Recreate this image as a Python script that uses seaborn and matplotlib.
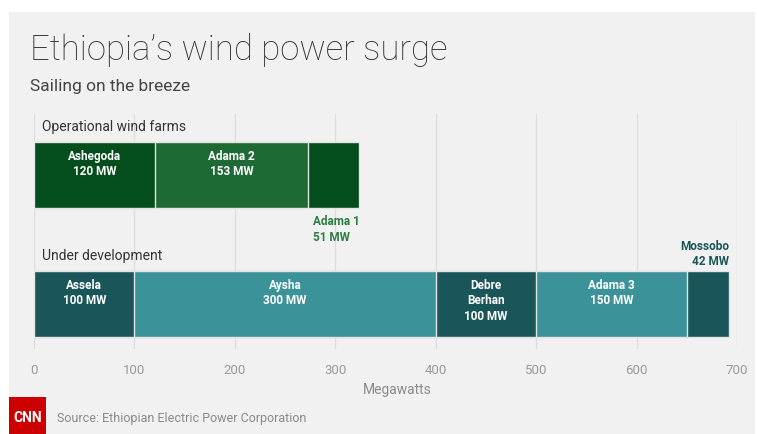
import matplotlib
matplotlib.use("Agg")
import matplotlib.pyplot as plt
import matplotlib.patches as mpatches
import seaborn as sns
import pandas as pd
import numpy as np

# ---- data ----
groups = ["Operational wind farms", "Under development"]
operational_names = ["Ashegoda", "Adama 2", "Adama 1"]
operational_mw = [120, 153, 51]
development_names = ["Assela", "Aysha", "Debre\nBerhan", "Adama 3", "Mossobo"]
development_mw = [100, 300, 100, 150, 42]
x_ticks = [0, 100, 200, 300, 400, 500, 600, 700]

BG = "#f1f1f1"
op_colors = ["#044d1d", "#1e6a34", "#044d1d"]
dev_colors = ["#1a5659", "#3b9298", "#1a5659", "#3b9298", "#1a5659"]

sns.set_theme(style="white")
plt.rcParams["font.family"] = ["Roboto", "DejaVu Sans"]

W, H = 757, 435
fig = plt.figure(figsize=(W / 100, H / 100), dpi=100)
fig.patch.set_facecolor("white")
# grey panel
fig.add_artist(mpatches.Rectangle((9 / W, 0), (755 - 9) / W, (H - 13) / H,
                                  transform=fig.transFigure, facecolor=BG,
                                  edgecolor="none", zorder=-10))

ax = fig.add_axes([34 / W, 1 - 350 / H, (737 - 34) / W, (350 - 115) / H])
ax.set_facecolor(BG)

# build a long table of segments with cumulative ends
rows = []
for g, names, vals, cols in [(groups[0], operational_names, operational_mw, op_colors),
                             (groups[1], development_names, development_mw, dev_colors)]:
    cum = np.cumsum(vals)
    for n, v, c, e in zip(names, vals, cols, cum):
        rows.append(dict(group=g, name=n, mw=v, end=e, start=e - v, color=c))
df = pd.DataFrame(rows)

# draw cumulative bars from longest to shortest so each segment shows
for gi, g in enumerate(groups):
    sub = df[df.group == g].iloc[::-1]
    for _, r in sub.iterrows():
        d = pd.DataFrame({"group": [g], "end": [r.end]})
        sns.barplot(data=d, x="end", y="group", order=groups, orient="h",
                    color=r.color, saturation=1, width=0.51,
                    edgecolor="#e4e4e4", linewidth=1.0, ax=ax)

ax.set_xlim(0, 700)
ax.set_ylim(1.349, -0.473)
ax.set_xticks(x_ticks)
ax.set_xticklabels([str(t) for t in x_ticks], color="#9a9a9a", fontsize=9.5)
ax.tick_params(axis="x", length=0, pad=10)
ax.set_yticks([])
ax.set_xlabel("")
ax.set_ylabel("")
for s in ax.spines.values():
    s.set_visible(False)
ax.grid(axis="x", color="#dddddd", linewidth=1)
ax.set_axisbelow(True)

# group labels
ax.text(8, -0.38, groups[0], fontsize=10, color="#333333", va="center", ha="left")
ax.text(8, 1 - 0.38, groups[1], fontsize=10, color="#333333", va="center", ha="left")

# segment labels
lab_font = dict(fontsize=8.5, fontweight="bold")
for gi, g in enumerate(groups):
    sub = df[df.group == g]
    for _, r in sub.iterrows():
        txt = f"{r['name']}\n{r.mw} MW"
        if r["name"] == "Adama 1":
            ax.text(r.start + 5, gi + 0.305, txt, color="#2e7d42", ha="left",
                    va="top", linespacing=1.25, **lab_font)
        elif r["name"] == "Mossobo":
            ax.text(r.end, gi - 0.285, txt, color="#1a5659", ha="right",
                    va="bottom", linespacing=1.25, **lab_font)
        else:
            ax.text((r.start + r.end) / 2, gi - 0.205, txt, color="white",
                    ha="center", va="top", linespacing=1.25, **lab_font)

# titles
fig.text(30 / W, 1 - 50 / H, "Ethiopia\u2019s wind power surge", fontsize=25,
         color="#333333", va="center", ha="left", fontweight="light")
fig.text(30 / W, 1 - 86 / H, "Sailing on the breeze", fontsize=12.5,
         color="#444444", va="center", ha="left")
fig.text(397 / W, 1 - 390 / H, "Megawatts", fontsize=10, color="#8a8a8a",
         ha="center", va="center")

# footer
fig.add_artist(mpatches.Rectangle((9 / W, 0), 37 / W, 37 / H,
                                  transform=fig.transFigure, facecolor="#cc0000",
                                  edgecolor="none"))
fig.text(27.5 / W, 1 - 418 / H, "CNN", fontsize=10, fontweight="bold",
         color="white", ha="center", va="center")
fig.text(57 / W, 1 - 419 / H, "Source: Ethiopian Electric Power Corporation",
         fontsize=9, color="#8a8a8a", ha="left", va="center")

fig.savefig("out.png", dpi=100, facecolor="white")
